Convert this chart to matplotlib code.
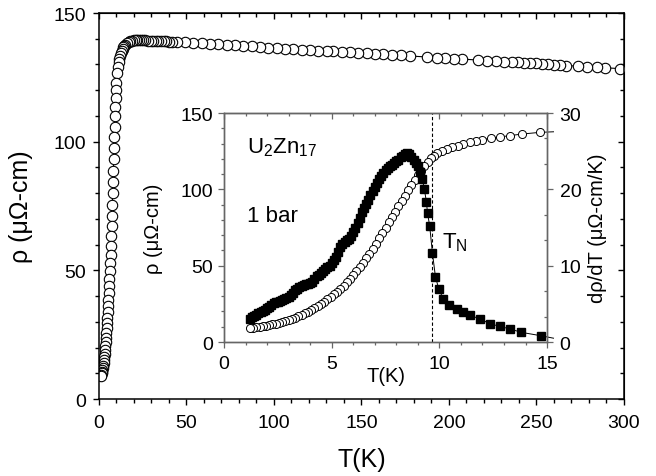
import numpy as np
import matplotlib.pyplot as plt
from matplotlib.ticker import MultipleLocator

plt.rcParams['font.family'] = ['Liberation Sans', 'DejaVu Sans']
plt.rcParams['mathtext.fontset'] = 'custom'
plt.rcParams['mathtext.rm'] = 'Liberation Sans'
plt.rcParams['mathtext.default'] = 'regular'

# main panel: resistivity 1.2 - 300 K
T_main = [1.2, 1.4, 1.6, 1.8, 2.0, 2.2, 2.4, 2.6, 2.8, 3.0, 3.2, 3.4, 3.6, 3.8,
          4.0, 4.2, 4.4, 4.6, 4.8, 5.0, 5.2, 5.4, 5.6, 5.8, 6.0, 6.2, 6.4, 6.6,
          6.8, 7.0, 7.2, 7.4, 7.6, 7.8, 8.0, 8.2, 8.4, 8.6, 8.8, 9.0, 9.2, 9.4,
          9.6, 9.8, 10.0, 10.4, 10.8, 11.2, 11.6, 12.0, 12.5, 13.0, 13.5, 14.0,
          14.5, 15.0, 16.0, 17.0, 18.0, 19.0, 20.0, 21.0, 22.0, 23.0, 24.0, 25.0,
          26.5, 28.0, 29.5, 31.0, 32.5, 34.0, 35.5, 37.0, 38.5, 40.0, 41.5,
          44.4, 49.1, 53.9, 58.6, 63.4, 68.1, 72.9, 77.7, 82.5, 87.2, 92.0,
          96.7, 101.5, 106.3, 111.0, 115.8, 120.6, 125.3, 130.1,
          133.9, 138.7, 143.4, 148.2, 153.0, 157.7, 162.5, 167.2, 172.4, 177.7,
          187.6, 193.0, 197.9, 202.9, 207.6, 216.8, 221.9, 226.9, 231.4, 235.8,
          239.6, 243.0, 246.3, 249.7, 253.1, 256.6, 260.0, 263.4, 266.9, 273.9,
          279.0, 284.4, 289.3, 297.7]
rho_main = [9.0, 9.5, 10.0, 10.6, 11.3, 12.0, 12.9, 13.9, 15.0, 16.3, 17.6, 19.0,
            20.5, 22.1, 23.8, 25.6, 27.5, 29.5, 31.6, 33.8, 36.1, 38.6, 41.2,
            43.9, 46.8, 49.8, 52.9, 56.1, 59.6, 63.3, 67.2, 71.3, 75.5, 79.9,
            84.3, 88.8, 93.2, 97.6, 101.8, 105.9, 109.8, 113.5, 117.0, 120.2,
            123.0, 126.5, 129.0, 130.9, 132.3, 133.4, 134.5, 135.4, 136.1, 136.7,
            137.2, 137.6, 138.3, 138.8, 139.1, 139.3, 139.4, 139.5, 139.5, 139.5,
            139.5, 139.4, 139.4, 139.3, 139.3, 139.2, 139.2, 139.1, 139.1, 139.0,
            139.0, 138.9, 138.9,
            138.8, 138.6, 138.4, 138.2, 138.0, 137.8, 137.6, 137.4, 137.2, 137.0,
            136.8, 136.6, 136.4, 136.2, 136.0, 135.8, 135.6, 135.4, 135.2,
            135.1, 134.9, 134.7, 134.5, 134.3, 134.1, 133.9, 133.7, 133.5, 133.3,
            132.9, 132.7, 132.5, 132.3, 132.1, 131.7, 131.5, 131.3, 131.1, 130.9,
            130.8, 130.6, 130.5, 130.4, 130.2, 130.1, 129.9, 129.8, 129.6, 129.3,
            129.1, 128.9, 128.7, 128.4]

# inset: resistivity below 15 K (last point lies just past the axis end)
T_in = [1.20, 1.35, 1.50, 1.65, 1.80, 1.95, 2.10, 2.25, 2.40, 2.55, 2.70, 2.85,
        3.00, 3.15, 3.30, 3.45, 3.60, 3.75, 3.90, 4.05, 4.20, 4.35, 4.50, 4.65,
        4.80, 4.95, 5.10, 5.25, 5.40, 5.55, 5.70, 5.85, 6.00, 6.15, 6.30, 6.45,
        6.60, 6.75, 6.90, 7.05, 7.20, 7.35, 7.50, 7.65, 7.80, 7.95, 8.10, 8.25,
        8.40, 8.55, 8.70, 8.85, 9.00, 9.15, 9.30, 9.45, 9.60, 9.75, 9.90, 10.10,
        10.35, 10.60, 10.85, 11.10, 11.40, 11.70, 12.00, 12.40, 12.80, 13.28,
        13.83, 14.65, 15.30]
rho_in = [9.0, 9.3, 9.6, 9.9, 10.3, 10.7, 11.1, 11.6, 12.1, 12.6, 13.2, 13.8,
          14.5, 15.2, 16.0, 16.9, 17.8, 18.8, 19.9, 21.0, 22.2, 23.5, 24.9, 26.3,
          27.9, 29.5, 31.2, 33.0, 35.0, 37.0, 39.2, 41.5, 43.9, 46.4, 49.0, 51.8,
          54.8, 57.9, 61.1, 64.4, 67.8, 71.3, 74.8, 78.3, 81.8, 85.3, 88.8, 92.3,
          95.8, 99.3, 102.7, 106.0, 109.2, 112.2, 115.1, 117.8, 120.2, 122.1,
          123.6, 125.0, 126.4, 127.6, 128.7, 129.7, 130.7, 131.6, 132.6, 133.5,
          134.3, 135.2, 136.2, 137.3, 137.7]

# inset: d rho / dT (right axis)
T_d = [1.20, 1.30, 1.40, 1.50, 1.60, 1.70, 1.80, 1.90, 2.00, 2.10, 2.20, 2.30,
       2.40, 2.50, 2.60, 2.70, 2.80, 2.90, 3.00, 3.10, 3.20, 3.30, 3.40, 3.50,
       3.60, 3.70, 3.80, 3.90, 4.00, 4.10, 4.20, 4.30, 4.40, 4.50, 4.60, 4.70,
       4.80, 4.90, 5.00, 5.10, 5.20, 5.30, 5.40, 5.50, 5.60, 5.70, 5.80, 5.90,
       6.00, 6.10, 6.20, 6.30, 6.40, 6.50, 6.60, 6.70, 6.80, 6.90, 7.00, 7.10,
       7.20, 7.30, 7.40, 7.50, 7.60, 7.70, 7.80, 7.90, 8.00, 8.10, 8.20, 8.30,
       8.40, 8.50, 8.60, 8.70, 8.80, 8.90, 9.00, 9.10, 9.20, 9.30, 9.40, 9.45,
       9.55, 9.68, 9.82, 9.98, 10.19, 10.45, 10.80, 11.10, 11.43, 11.90, 12.35,
       12.80, 13.30, 13.80, 14.70, 15.30]
drho = [3.0, 3.3, 3.4, 3.6, 3.8, 3.9, 4.0, 4.2, 4.4, 4.6, 4.9, 5.1, 5.2, 5.3,
        5.4, 5.5, 5.6, 5.8, 5.9, 6.1, 6.4, 6.8, 7.0, 7.2, 7.4, 7.5, 7.6, 7.6,
        7.7, 7.9, 8.2, 8.6, 8.8, 9.1, 9.3, 9.6, 9.8, 10.0, 10.3, 10.7, 11.2,
        11.8, 12.4, 12.8, 13.1, 13.3, 13.5, 13.9, 14.4, 15.0, 15.6, 16.3, 17.0,
        17.6, 18.1, 18.6, 19.2, 19.8, 20.3, 20.8, 21.3, 21.7, 22.1, 22.5, 22.8,
        23.0, 23.2, 23.4, 23.7, 23.9, 24.2, 24.4, 24.6, 24.7, 24.6, 24.3, 23.9,
        23.5, 23.0, 22.3, 21.4, 20.1, 18.3, 16.9, 15.2, 11.6, 8.5, 6.9, 5.6,
        4.9, 4.3, 3.9, 3.5, 3.0, 2.4, 2.05, 1.7, 1.27, 0.83, 0.5]

T_neel = 9.65

fig = plt.figure(figsize=(6.56, 4.77), dpi=100)
ax = fig.add_axes([0.1509, 0.1614, 0.8003, 0.8092])

ax.plot(T_main[::-1], rho_main[::-1], '-o', color='k', lw=0.8, ms=7.5,
        mfc='white', mec='k', mew=0.8)
ax.set_xlim(0, 300)
ax.set_ylim(0, 150)
ax.xaxis.set_major_locator(MultipleLocator(50))
ax.xaxis.set_minor_locator(MultipleLocator(10))
ax.yaxis.set_major_locator(MultipleLocator(50))
ax.yaxis.set_minor_locator(MultipleLocator(10))
ax.tick_params(which='both', direction='out', top=False, right=False,
               width=1.0, labelsize=14)
ax.tick_params(which='major', length=4.5)
ax.tick_params(which='minor', length=3)
ax.tick_params(axis='x', pad=6)
ax.tick_params(axis='y', pad=5)
for s in ax.spines.values():
    s.set_linewidth(1.1)

top = ax.secondary_xaxis('top')
top.xaxis.set_major_locator(MultipleLocator(50))
top.xaxis.set_minor_locator(MultipleLocator(10))
top.tick_params(which='both', direction='in', labeltop=False, width=1.0)
top.tick_params(which='major', length=4.5)
top.tick_params(which='minor', length=3)
rgt = ax.secondary_yaxis('right')
rgt.yaxis.set_major_locator(MultipleLocator(50))
rgt.yaxis.set_minor_locator(MultipleLocator(10))
rgt.tick_params(which='both', direction='in', labelright=False, width=1.0)
rgt.tick_params(which='major', length=4.5)
rgt.tick_params(which='minor', length=3)

ax.set_xlabel('T(K)', fontsize=18)
ax.set_ylabel('ρ (μΩ-cm)', fontsize=18)
ax.xaxis.set_label_coords(0.5, -0.125)
ax.yaxis.set_label_coords(-0.126, 0.5)

# inset
ax_in = fig.add_axes([0.3415, 0.2809, 0.4924, 0.4801])
ax_d = ax_in.twinx()
gray = '0.4'

ax_in.axvline(T_neel, color='k', lw=0.8, ls=(0, (3, 2)))
ax_in.plot(T_in[::-1], rho_in[::-1], '-o', color='k', lw=0.7, ms=5.8,
           mfc='white', mec='k', mew=0.7, clip_on=False,
           markevery=slice(1, None))
ax_d.plot(T_d[::-1], drho[::-1], '-s', color='k', lw=0.7, ms=5.4,
          mfc='k', mec='k', clip_on=False, markevery=slice(1, None))

ax_in.set_xlim(0, 15)
ax_in.set_ylim(0, 150)
ax_d.set_ylim(0, 30)
ax_in.xaxis.set_major_locator(MultipleLocator(5))
ax_in.xaxis.set_minor_locator(MultipleLocator(1))
ax_in.yaxis.set_major_locator(MultipleLocator(50))
ax_in.yaxis.set_minor_locator(MultipleLocator(10))
ax_d.yaxis.set_major_locator(MultipleLocator(10))
ax_d.yaxis.set_minor_locator(MultipleLocator(10 / 3))

ax_in.tick_params(which='both', direction='out', top=False, color=gray,
                  width=0.9, labelsize=14)
ax_in.tick_params(which='major', length=4)
ax_in.tick_params(which='minor', length=2.5)
ax_in.tick_params(axis='x', pad=5)
ax_in.tick_params(axis='y', pad=4)
ax_d.tick_params(which='major', direction='out', length=4, color=gray,
                 width=0.9, labelsize=14, pad=5)
ax_d.tick_params(which='minor', direction='in', length=2.5, color=gray,
                 width=0.9)
in_top = ax_in.secondary_xaxis('top')
in_top.xaxis.set_major_locator(MultipleLocator(5))
in_top.xaxis.set_minor_locator(MultipleLocator(1))
in_top.tick_params(which='both', direction='in', labeltop=False, color=gray,
                   width=0.9)
in_top.tick_params(which='major', length=4)
in_top.tick_params(which='minor', length=2.5)
in_top.spines['top'].set_color(gray)
for a in (ax_in, ax_d):
    for s in a.spines.values():
        s.set_color(gray)
        s.set_linewidth(1.0)

ax_in.set_xlabel('T(K)', fontsize=14.5)
ax_in.set_ylabel('ρ (μΩ-cm)', fontsize=14.5)
ax_d.set_ylabel('dρ/dT (μΩ-cm/K)', fontsize=14.5)
ax_in.xaxis.set_label_coords(0.5, -0.105)
ax_in.yaxis.set_label_coords(-0.19, 0.5)
ax_d.yaxis.set_label_coords(1.127, 0.5)

ax_in.text(1.05, 124, r'U$_2$Zn$_{17}$', fontsize=16, ha='left', va='baseline')
ax_in.text(1.07, 79, '1 bar', fontsize=16, ha='left', va='baseline')
ax_in.text(10.1, 62, r'T$_N$', fontsize=16, ha='left', va='baseline')

fig.savefig('out.png', dpi=100)
